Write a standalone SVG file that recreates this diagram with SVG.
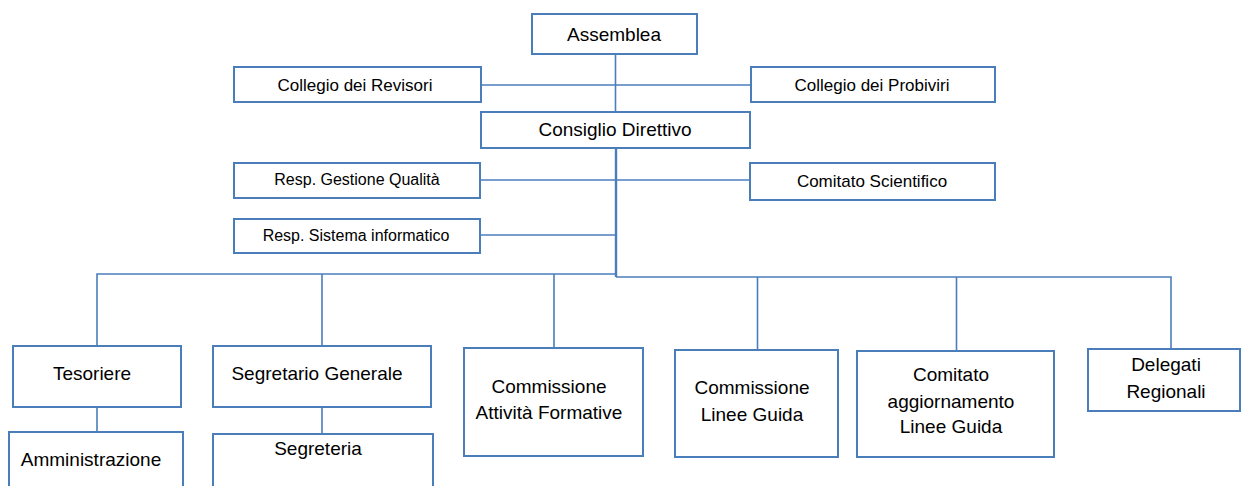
<svg xmlns="http://www.w3.org/2000/svg" width="1242" height="486" viewBox="0 0 1242 486">
<style>
.box{fill:#fff;stroke:#4A7EBB;stroke-width:2}
.ln{fill:none;stroke:#4A7EBB;stroke-width:1.6}
.sp{fill:none;stroke:#4A7EBB;stroke-width:2.4}
text{font-family:"Liberation Sans",Arial,sans-serif;fill:#000;text-anchor:middle}
.b{font-size:19px}
.m{font-size:17px}
.s{font-size:16px}
</style>
<rect width="1242" height="486" fill="#fff"/>
<g id="connectors">
<line class="ln" x1="615.5" y1="54" x2="615.5" y2="112"/>
<line class="ln" x1="481" y1="85" x2="751" y2="85"/>
<line class="sp" x1="616" y1="148" x2="616" y2="277"/>
<line class="ln" x1="480" y1="180" x2="750" y2="180"/>
<line class="ln" x1="480" y1="235" x2="616" y2="235"/>
<path class="ln" d="M97 346V274H616"/>
<line class="ln" x1="322" y1="274" x2="322" y2="346"/>
<line class="ln" x1="554" y1="274" x2="554" y2="348"/>
<path class="ln" d="M616 277H1171V349"/>
<line class="ln" x1="757.5" y1="277" x2="757.5" y2="350"/>
<line class="ln" x1="956.5" y1="277" x2="956.5" y2="351"/>
<line class="ln" x1="97" y1="407" x2="97" y2="432"/>
<line class="ln" x1="322" y1="407" x2="322" y2="434"/>
</g>
<g id="assemblea"><rect class="box" x="532" y="14" width="165" height="40"/><text class="b" x="614" y="41">Assemblea</text></g>
<g id="revisori"><rect class="box" x="234" y="67" width="247" height="35"/><text class="m" x="355" y="91">Collegio dei Revisori</text></g>
<g id="probiviri"><rect class="box" x="751" y="67" width="244" height="35"/><text class="m" x="872" y="91">Collegio dei Probiviri</text></g>
<g id="consiglio"><rect class="box" x="481" y="112" width="269" height="36"/><text class="b" x="615" y="136">Consiglio Direttivo</text></g>
<g id="qualita"><rect class="box" x="234" y="163" width="246" height="35"/><text class="s" x="357" y="185">Resp. Gestione Qualità</text></g>
<g id="scientifico"><rect class="box" x="750" y="163" width="245" height="37"/><text class="m" x="872" y="187">Comitato Scientifico</text></g>
<g id="informatico"><rect class="box" x="234" y="219" width="246" height="34"/><text class="s" x="356" y="241">Resp. Sistema informatico</text></g>
<g id="tesoriere"><rect class="box" x="13" y="346" width="168" height="61"/><text class="b" x="92" y="380">Tesoriere</text></g>
<g id="segretario"><rect class="box" x="213" y="346" width="218" height="61"/><text class="b" x="317" y="380">Segretario Generale</text></g>
<g id="amministrazione"><rect class="box" x="9" y="432" width="174" height="60"/><text class="b" x="91" y="466">Amministrazione</text></g>
<g id="segreteria"><rect class="box" x="213" y="434" width="220" height="60"/><text class="b" x="318" y="455">Segreteria</text></g>
<g id="caf"><rect class="box" x="464" y="348" width="179" height="108"/><text class="b" x="549" y="393">Commissione</text><text class="b" x="549" y="419">Attività Formative</text></g>
<g id="clg"><rect class="box" x="675" y="350" width="163" height="107"/><text class="b" x="752" y="394">Commissione</text><text class="b" x="752" y="421">Linee Guida</text></g>
<g id="calg"><rect class="box" x="857" y="351" width="197" height="106"/><text class="b" x="951" y="381">Comitato</text><text class="b" x="951" y="408">aggiornamento</text><text class="b" x="951" y="433">Linee Guida</text></g>
<g id="delegati"><rect class="box" x="1088" y="349" width="152" height="62"/><text class="b" x="1166" y="371">Delegati</text><text class="b" x="1166" y="398">Regionali</text></g>
</svg>
